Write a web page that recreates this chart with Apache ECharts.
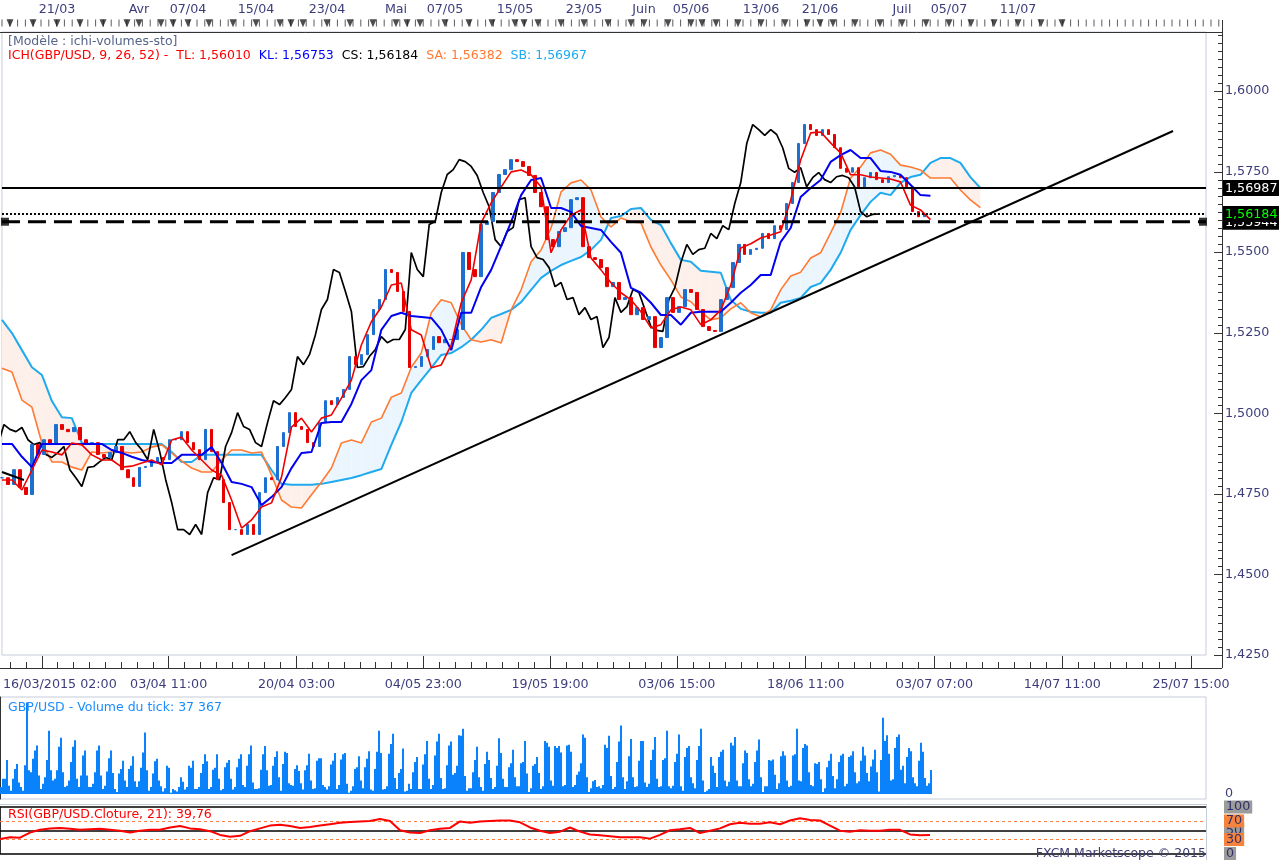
<!DOCTYPE html>
<html><head><meta charset="utf-8">
<script src="https://cdn.jsdelivr.net/npm/echarts@6/dist/echarts.min.js"></script>
<style>html,body{margin:0;padding:0;background:#fff}#c{width:1279px;height:860px}</style>
</head><body><div id="c"></div>
<script>
// ---------- DATA (H4 bars, bar index from left edge) ----------
const CANDLE_STEP = 3;   // one candle per 3 bars
const LINE_STEP = 5;     // ichimoku / RSI samples every 5 bars
const CS_SHIFT = 26;
const closes = [
1.4800,1.4779,1.4825,1.4770,1.4748,1.4903,1.4872,1.4918,1.4903,1.4965,
1.4950,1.4943,1.4956,1.4918,1.4903,1.4909,1.4872,1.4863,1.4878,1.4897,
1.4825,1.4800,1.4773,1.4832,1.4835,1.4850,1.4863,1.4856,1.4918,1.4918,
1.4943,1.4909,1.4887,1.4856,1.4950,1.4881,1.4794,1.4723,1.4639,1.4639,
1.4624,1.4655,1.4624,1.4754,1.4800,1.4794,1.4897,1.4940,1.5002,1.4959,
1.4950,1.4909,1.4897,1.4971,1.5039,1.5027,1.5049,1.5074,1.5176,1.5151,
1.5182,1.5244,1.5322,1.5353,1.5446,1.5437,1.5378,1.5316,1.5142,1.5145,
1.5176,1.5198,1.5238,1.5219,1.5229,1.5229,1.5260,1.5499,1.5446,1.5424,
1.5586,1.5595,1.5685,1.5741,1.5756,1.5787,1.5781,1.5766,1.5738,1.5685,
1.5641,1.5539,1.5517,1.5564,1.5576,1.5663,1.5669,1.5517,1.5483,1.5477,
1.5452,1.5393,1.5406,1.5353,1.5359,1.5306,1.5328,1.5291,1.5300,1.5204,
1.5235,1.5359,1.5313,1.5331,1.5384,1.5375,1.5322,1.5269,1.5257,1.5254,
1.5353,1.5390,1.5468,1.5524,1.5493,1.5508,1.5512,1.5558,1.5542,1.5582,
1.5570,1.5651,1.5716,1.5837,1.5896,1.5880,1.5862,1.5880,1.5865,1.5824,
1.5760,1.5748,1.5762,1.5703,1.5731,1.5747,1.5725,1.5716,1.5734,1.5738,
1.5731,1.5703,1.5626,1.5610,1.5617,1.56184];
const tenkan = [
1.4793,1.4793,1.4762,1.4824,1.4886,1.4880,1.4871,1.4908,1.4902,1.4871,
1.4855,1.4855,1.4833,1.4836,1.4846,1.4855,1.4840,1.4917,1.4926,1.4886,
1.4855,1.4824,1.4808,1.4731,1.4644,1.4669,1.4709,1.4722,1.4802,1.4957,
1.4985,1.4942,1.4985,1.4995,1.5047,1.5103,1.5212,1.5284,1.5330,1.5398,
1.5404,1.5259,1.5243,1.5141,1.5150,1.5212,1.5343,1.5414,1.5591,1.5653,
1.5702,1.5749,1.5755,1.5740,1.5702,1.5498,1.5569,1.5615,1.5631,1.5482,
1.5445,1.5405,1.5374,1.5352,1.5315,1.5265,1.5275,1.5321,1.5330,1.5321,
1.5275,1.5290,1.5321,1.5398,1.5513,1.5526,1.5544,1.5553,1.5563,1.5662,
1.5786,1.5870,1.5873,1.5839,1.5808,1.5740,1.5740,1.5733,1.5730,1.5727,
1.5718,1.5646,1.5631,1.5601];
const kijun = [
1.4905,1.4905,1.4865,1.4833,1.4905,1.4905,1.4905,1.4905,1.4905,1.4905,
1.4905,1.4886,1.4877,1.4865,1.4855,1.4849,1.4846,1.4846,1.4871,1.4871,
1.4871,1.4895,1.4846,1.4787,1.4781,1.4771,1.4715,1.4740,1.4771,1.4830,
1.4877,1.4880,1.4970,1.4973,1.4973,1.5029,1.5103,1.5134,1.5259,1.5302,
1.5312,1.5302,1.5299,1.5296,1.5259,1.5196,1.5312,1.5312,1.5392,1.5445,
1.5519,1.5594,1.5677,1.5724,1.5730,1.5637,1.5637,1.5625,1.5581,1.5575,
1.5569,1.5532,1.5498,1.5389,1.5374,1.5343,1.5305,1.5305,1.5275,1.5312,
1.5315,1.5315,1.5315,1.5343,1.5374,1.5398,1.5429,1.5429,1.5532,1.5575,
1.5671,1.5699,1.5724,1.5780,1.5801,1.5817,1.5792,1.5792,1.5752,1.5749,
1.5740,1.5709,1.5677,1.5675];
const senkouA = [
1.5140,1.5128,1.5041,1.5019,1.4908,1.4849,1.4849,1.4833,1.4824,1.4880,
1.4877,1.4880,1.4880,1.4877,1.4880,1.4895,1.4902,1.4877,1.4852,1.4830,
1.4818,1.4818,1.4855,1.4886,1.4886,1.4877,1.4880,1.4808,1.4731,1.4709,
1.4706,1.4747,1.4787,1.4830,1.4908,1.4917,1.4908,1.4973,1.4985,1.5050,
1.5063,1.5143,1.5187,1.5312,1.5352,1.5343,1.5275,1.5228,1.5221,1.5228,
1.5218,1.5321,1.5383,1.5470,1.5507,1.5575,1.5687,1.5715,1.5724,1.5693,
1.5609,1.5578,1.5606,1.5594,1.5591,1.5516,1.5460,1.5414,1.5361,1.5346,
1.5315,1.5290,1.5296,1.5324,1.5343,1.5312,1.5299,1.5321,1.5383,1.5426,
1.5438,1.5482,1.5498,1.5560,1.5622,1.5730,1.5764,1.5808,1.5817,1.5804,
1.5770,1.5764,1.5755,1.5730,1.5730,1.5730,1.5693,1.5662,1.5638];
const senkouB = [
1.5290,1.5249,1.5196,1.5143,1.5119,1.5038,1.4988,1.4985,1.4908,1.4905,
1.4905,1.4905,1.4905,1.4905,1.4905,1.4905,1.4905,1.4880,1.4849,1.4849,
1.4871,1.4871,1.4871,1.4871,1.4871,1.4871,1.4871,1.4824,1.4781,1.4778,
1.4778,1.4778,1.4781,1.4787,1.4793,1.4799,1.4808,1.4818,1.4827,1.4902,
1.4973,1.5063,1.5103,1.5141,1.5181,1.5187,1.5205,1.5228,1.5259,1.5296,
1.5308,1.5321,1.5345,1.5383,1.5420,1.5442,1.5460,1.5473,1.5485,1.5507,
1.5538,1.5606,1.5612,1.5634,1.5637,1.5600,1.5584,1.5528,1.5476,1.5470,
1.5442,1.5439,1.5436,1.5352,1.5324,1.5315,1.5312,1.5312,1.5343,1.5349,
1.5358,1.5392,1.5404,1.5445,1.5498,1.5569,1.5615,1.5656,1.5684,1.5677,
1.5715,1.5733,1.5740,1.5777,1.5792,1.5792,1.5777,1.5733,1.5699];
// tick volume, thousands, one value per bar
const volumeK = [
11,24,24,53,13,5, 24,39,47,18,11,5, 45,143,37,34,55,68,76,29, 8,16,26,53,99,37, 21,24,37,74,88,34,
11,13,21,50,74,84,24, 11,29,60,68,29,11, 11,16,34,68,76, 29,8,13,35,56,68, 33,8,3,32,39,52,
21,11,39,44,59,20, 11,20,41,65,96,37, 5,11,32,51,55,21, 12,4,9,44,41, 2,
8,6,4,11,26,19, 7,11,44,41,52,8, 8,11,33,47,62,51, 8,11,38,41,62,24, 6,8,42,49,53,24,
7,11,42,55,62,14, 11,44,62,76,18,8, 8,9,38,62,75,37, 13,14,44,58,67,26, 5,47,66,64,17,
14,13,39,45,36,17, 7,37,45,63,21,8, 9,52,56,56,14,11, 7,12,46,52,64,8, 14,54,62,64,16, 2,
5,12,39,42,59,21, 9,42,55,67,7,5, 39,66,99,64,7,8, 12,63,78,94,25,8, 33,39,71,4,5,
16,8,34,50,58,8, 8,46,62,83,24,8, 14,60,82,94,25,8, 9,45,76,82,30,33, 44,92,91,102,28,5, 9,
9,34,53,74,26,11, 5,47,66,53,25,8, 11,44,87,64,24,11, 11,42,48,69,26,12, 12,48,50,83,32, 3,
9,44,47,58,33,8, 12,83,80,74,21,13, 75,72,75,65,12,14, 76,77,66,11,14,30, 35,48,93,88,26, 3,
9,20,22,11,12,9, 14,77,72,91,28,8, 11,50,82,107,26,8, 20,59,86,26,11,12, 52,83,83,18,
11,16,53,69,89,24, 11,12,53,56,99,12, 9,13,50,63,93,12, 5,58,72,75,26,17, 9,53,75,102,21, 3,
5,8,58,44,33, 11,58,66,69,21,12, 19,80,76,89,21,12, 12,48,68,64,23,12, 16,50,68,85,26, 3,
12,12,53,52,54,30, 8,17,59,67,60,21, 11,13,60,62,102,21, 20,72,78,76,34,14, 12,48,47,50,23, 3,
9,42,52,63,28,9, 23,50,60,63,12,16, 58,60,67,34,17, 20,52,74,60,33,20, 43,54,69,34,4,
53,119,83,92,63,21, 23,72,89,93,38,44, 17,58,72,67,26,17, 12,52,80,66,25,13, 17,37.367];
const rsi = [
31,35,34,45,51,54,55,53,51,52, 53,51,49,45,49,51,51,56,59,54,
52,48,40,36,38,48,54,60,62,59, 55,57,60,63,66,68,69,70,74,70,
50,45,44,50,53,55,69,66,69,70, 71,71,67,56,49,44,47,56,47,41,
39,37,35,35,35,32,40,50,52,55, 44,49,54,63,66,64,64,67,63,71,
76,72,71,60,49,47,50,49,49,51, 51,41,39,39.76];
const levels = [1.56987, 1.55944, 1.56184];          // solid, dashed, dotted
const trendLines = [[[115, 1.4560], [586.5, 1.5876]], [[0, 1.4818], [11, 1.4793]]];
const priceTicks = {min: 1.425, max: 1.61831, interval: 0.025, minorInterval: 0.0025};
const bottomTickBars = [20, 83.5, 147.5, 211, 274.5, 338, 402.5, 467, 531, 595.5];
const bottomLabelBars = [29, 83.5, 147.5, 211, 274.5, 338, 402.5, 467, 531, 595.5];
const bottomLabels = ['16/03/2015 02:00','03/04 11:00','20/04 03:00','04/05 23:00','19/05 19:00','03/06 15:00','18/06 11:00','03/07 07:00','14/07 11:00','25/07 15:00'];
const topLabelBars = [28.5, 69.5, 94, 128, 163.5, 198, 222.5, 257.5, 292, 322, 345.5, 380.5, 410, 451, 474.5, 509];
const topLabels = ['21/03','Avr','07/04','15/04','23/04','Mai','07/05','15/05','23/05','Juin','05/06','13/06','21/06','Juil','05/07','11/07'];
const triangleBars = [5,16.5,28.5,40,51.5,63.5,69.5,80.5,86.5,94,104.5,116.5,128,140,145.5,151.5,163.5,175,186.5,198,203.5,210,222.5,234.5,246,257.5,262,269,280.5,292,304,315.5,322,334,345.5,351,358,369,380.5,392.5,403.5,410,416.5,427.5,440,451,463,474.5,485.5,497,509,520.5,531];
const texts = {
  model: '[Modèle : ichi-volumes-sto]',
  ich: 'ICH(GBP/USD, 9, 26, 52) -  TL: 1,56010', kl: 'KL: 1,56753', cs: 'CS: 1,56184', sa: 'SA: 1,56382', sb: 'SB: 1,56967',
  vol: 'GBP/USD - Volume du tick: 37 367', rsi: 'RSI(GBP/USD.Cloture, 21): 39,76', brand: 'FXCM Marketscope © 2015'
};

// ---------- BUILD ----------
const FONT = 'DejaVu Sans';
const FT = '12.5px "DejaVu Sans"';
const AXF = 12.7;
const AX = '#3c3c7c';
const fmtC = (v, d) => v.toFixed(d).replace('.', ',');
const candleData = closes.map((c, i) => { const o = i ? closes[i - 1] : c; return [i * CANDLE_STEP, o, c, Math.min(o, c), Math.max(o, c)]; });
const lineData = arr => arr.map((v, i) => [i * LINE_STEP, v]);
const csData = closes.map((c, i) => [i * CANDLE_STEP - CS_SHIFT, c]);
const cloudData = senkouA.map((a, i) => [i * LINE_STEP, a, senkouB[i]]);
const volData = volumeK.map((v, i) => [i + 0.5, v]);
const minorBottom = [4, 12];
for (let k = 0; k < bottomTickBars.length - 1; k++) {
  const a = bottomTickBars[k], b = bottomTickBars[k + 1];
  for (let j = 1; j < 8; j++) minorBottom.push(a + (b - a) * j / 8);
}
const stripTicks = [];
for (let b = 1; b < 610; b += 3.9) stripTicks.push([+b.toFixed(2), 0.75]);
const botLabelMap = new Map(bottomLabelBars.map((b, i) => [b, bottomLabels[i]]));
const topLabelMap = new Map(topLabelBars.map((b, i) => [b, topLabels[i]]));

const BULL = '#eaf5fd', BEAR = '#fdf0ea';
function renderCloud(params, api) {
  const i = params.dataIndex;
  if (i >= cloudData.length - 1) return null;
  const [x0, a0, b0] = cloudData[i], [x1, a1, b1] = cloudData[i + 1];
  const d0 = a0 - b0, d1 = a1 - b1;
  const poly = (pts, col) => ({type: 'polygon', shape: {points: pts.map(p => api.coord(p))}, style: {fill: col}, silent: true});
  const children = [];
  if (d0 * d1 >= 0) {
    children.push(poly([[x0, a0], [x1, a1], [x1, b1], [x0, b0]], (d0 + d1) >= 0 ? BULL : BEAR));
  } else {
    const t = d0 / (d0 - d1), xc = x0 + (x1 - x0) * t, yc = a0 + (a1 - a0) * t;
    children.push(poly([[x0, a0], [xc, yc], [x0, b0]], d0 > 0 ? BULL : BEAR));
    children.push(poly([[xc, yc], [x1, a1], [x1, b1]], d1 > 0 ? BULL : BEAR));
  }
  return {type: 'group', children};
}

const off = () => ({show: false});
const chart = echarts.init(document.getElementById('c'), null, {renderer: 'canvas'});
const levelStyles = [
  {color: '#000', width: 2, type: 'solid'},
  {color: '#000', width: 3, type: [18, 8]},
  {color: '#000', width: 2, type: [2, 2]}
];
const levelLabelColors = ['#fff', '#fff', '#00ff00'];

const baseGraphics = [
  {type: 'line', shape: {x1: 1222.5, y1: 20, x2: 1222.5, y2: 668}, style: {stroke: '#333', lineWidth: 1}, silent: true, z: 50},
  {type: 'line', shape: {x1: 0, y1: 668.5, x2: 1222, y2: 668.5}, style: {stroke: '#333', lineWidth: 1}, silent: true, z: 50},
  {type: 'line', shape: {x1: 0, y1: 804.5, x2: 1206, y2: 804.5}, style: {stroke: '#c5ccd8', lineWidth: 1}, silent: true, z: 50},
  {type: 'line', shape: {x1: 1206.5, y1: 804, x2: 1206.5, y2: 860}, style: {stroke: '#c5ccd8', lineWidth: 1}, silent: true, z: 50},
  {type: 'text', x: 8, y: 35.5, z: 100, style: {text: texts.model, fill: '#556488', font: FT}, silent: true},
  {type: 'text', x: 8, y: 49.5, z: 100, silent: true, style: {
    text: '{r|' + texts.ich + '}  {b|' + texts.kl + '}  {k|' + texts.cs + '}  {o|' + texts.sa + '}  {s|' + texts.sb + '}',
    font: FT,
    rich: {r: {fill: '#ff0000', font: FT}, b: {fill: '#0000ff', font: FT}, k: {fill: '#000', font: FT},
           o: {fill: '#ff7a32', font: FT}, s: {fill: '#1fa9ef', font: FT}}}},
  {type: 'text', x: 8, y: 701.5, z: 100, style: {text: texts.vol, fill: '#1a8cff', font: FT}, silent: true},
  {type: 'text', x: 8, y: 808.5, z: 100, style: {text: texts.rsi, fill: '#ff0000', font: FT}, silent: true},
  {type: 'text', x: 1206, y: 847.5, z: 100, style: {text: texts.brand, fill: '#3c3c6e', font: FT, align: 'right'}, silent: true}
];

chart.setOption({
  animation: false,
  textStyle: {fontFamily: FONT},
  grid: [
    {left: 0, top: 32, width: 1206, height: 623, show: true, borderColor: '#c5ccd8', borderWidth: 1},
    {left: 0, top: 697, width: 1206, height: 102, show: true, borderColor: '#c5ccd8', borderWidth: 1},
    {left: 0, top: 807, width: 1206, height: 50, show: false},
    {left: 0, top: 20, width: 1222, height: 12, show: false}
  ],
  xAxis: [
    {type: 'value', gridIndex: 0, min: 0, max: 603, position: 'bottom', offset: 13,
     axisLine: off(), splitLine: off(),
     axisTick: {show: true, inside: true, length: 12, customValues: bottomTickBars, lineStyle: {color: '#333'}},
     axisLabel: {show: true, customValues: bottomLabelBars, formatter: v => botLabelMap.get(v) || '', color: AX, fontSize: AXF, fontFamily: FONT, margin: 10}},
    {type: 'value', gridIndex: 0, min: 0, max: 603, position: 'bottom', offset: 13,
     axisLine: off(), splitLine: off(), axisLabel: off(),
     axisTick: {show: true, inside: true, length: 6, customValues: minorBottom, lineStyle: {color: '#333'}}},
    {type: 'value', gridIndex: 1, min: 0, max: 603, show: false},
    {type: 'value', gridIndex: 2, min: 0, max: 603, show: false},
    {type: 'value', gridIndex: 3, min: 0, max: 611, position: 'top',
     axisLine: {show: true, lineStyle: {color: '#333', width: 1}}, splitLine: off(), axisTick: off(),
     axisLabel: {show: true, customValues: topLabelBars, formatter: v => topLabelMap.get(v) || '', color: AX, fontSize: AXF, fontFamily: FONT, margin: 4}}
  ],
  yAxis: [
    {type: 'value', gridIndex: 0, position: 'right', offset: 16, min: priceTicks.min, max: priceTicks.max, interval: priceTicks.interval,
     axisLine: off(), splitLine: off(), axisTick: off(),
     axisLabel: {formatter: v => fmtC(v, 4), color: AX, fontSize: AXF, fontFamily: FONT, margin: 3, showMaxLabel: false}},
    {type: 'value', gridIndex: 1, position: 'right', offset: 16, min: -7.8, max: 151.6,
     axisLine: {show: true, lineStyle: {color: '#333'}}, splitLine: off(),
     axisTick: {show: true, inside: true, length: 8, customValues: [0, 25, 50, 75, 100, 125], lineStyle: {color: '#333'}},
     axisLabel: {customValues: [0], formatter: v => String(v), color: AX, fontSize: AXF, fontFamily: FONT, margin: 3}},
    {type: 'value', gridIndex: 2, position: 'right', offset: 16, min: 0, max: 100,
     axisLine: {show: true, lineStyle: {color: '#333'}}, splitLine: off(),
     axisTick: {show: true, inside: true, length: 6, customValues: [0, 30, 50, 70, 100], lineStyle: {color: '#333'}},
     axisLabel: {customValues: [0, 50, 100, 30, 70], margin: 2, fontSize: AXF, fontFamily: FONT,
       formatter: v => (v === 30 || v === 70) ? '{o|' + v + '}' : '{g|' + v + '}',
       rich: {g: {backgroundColor: '#9b9b9b', color: '#2e2e66', padding: [0, 2, 0, 2], fontSize: AXF, fontFamily: FONT, lineHeight: 13},
              o: {backgroundColor: '#f5823d', color: '#2e2e66', padding: [0, 2, 0, 2], fontSize: AXF, fontFamily: FONT, lineHeight: 13}}}},
    {type: 'value', gridIndex: 3, min: 0, max: 1, show: false}
  ],
  series: [
    {name: 'cloud', type: 'custom', data: cloudData, encode: {x: 0, y: [1, 2]}, renderItem: renderCloud, silent: true, z: 1, clip: true},
    {name: 'SB', type: 'line', data: lineData(senkouB), symbol: 'none', lineStyle: {color: '#1fa9ef', width: 2}, z: 2},
    {name: 'SA', type: 'line', data: lineData(senkouA), symbol: 'none', lineStyle: {color: '#ff7a32', width: 1.6}, z: 2},
    {name: 'CS', type: 'line', data: csData, symbol: 'none', lineStyle: {color: '#000', width: 1.7}, z: 3},
    {name: 'candles', type: 'candlestick', data: candleData, encode: {x: 0, y: [1, 2, 3, 4]}, barWidth: 3,
     itemStyle: {color: '#1d6fd0', color0: '#e60000', borderColor: '#1d6fd0', borderColor0: '#e60000', borderWidth: 1}, z: 4},
    {name: 'KL', type: 'line', data: lineData(kijun), symbol: 'none', lineStyle: {color: '#0000f2', width: 2}, z: 5},
    {name: 'TL', type: 'line', data: lineData(tenkan), symbol: 'none', lineStyle: {color: '#f20000', width: 1.6}, z: 6},
    ...trendLines.map((pts, k) => ({name: 'trend' + k, type: 'line', data: pts, symbol: 'none', lineStyle: {color: '#000', width: 2}, z: 7})),
    ...levels.map((v, j) => ({name: 'level' + j, type: 'line', data: [[0, v], [603, v]], symbol: 'none', lineStyle: levelStyles[j], z: 7})),
    {name: 'levelEnds', type: 'scatter', data: [[1.5, levels[1]], [601.5, levels[1]]], symbol: 'rect', symbolSize: 8, itemStyle: {color: '#000'}, z: 8},
    {name: 'volume', type: 'bar', xAxisIndex: 2, yAxisIndex: 1, data: volData, barWidth: 2, itemStyle: {color: '#0a82fb'}},
    {name: 'RSI', type: 'line', xAxisIndex: 3, yAxisIndex: 2, data: lineData(rsi), symbol: 'none', lineStyle: {color: '#ff0000', width: 2}, z: 5,
     markLine: {symbol: 'none', silent: true, label: {show: false},
       data: [
         {yAxis: 100, lineStyle: {color: '#000', width: 1.5, type: 'solid'}},
         {yAxis: 50, lineStyle: {color: '#000', width: 1.5, type: 'solid'}},
         {yAxis: 0, lineStyle: {color: '#000', width: 1.5, type: 'solid'}},
         {yAxis: 70, lineStyle: {color: '#ff7f40', width: 1, type: [3, 3]}},
         {yAxis: 30, lineStyle: {color: '#ff7f40', width: 1, type: [3, 3]}}
       ]}},
    {name: 'stripTicks', type: 'scatter', xAxisIndex: 4, yAxisIndex: 3, data: stripTicks, symbol: 'rect', symbolSize: [1, 7], itemStyle: {color: '#333'}},
    {name: 'markers', type: 'scatter', xAxisIndex: 4, yAxisIndex: 3, data: triangleBars.map(b => [b, 0.72]),
     symbol: 'triangle', symbolRotate: 180, symbolSize: [7, 8], itemStyle: {color: '#222'}}
  ],
  graphic: baseGraphics
});

// level value boxes and price-scale ticks, placed through the price axis scale
const extra = levels.map((v, j) => {
  const y = chart.convertToPixel({yAxisIndex: 0}, v);
  return {type: 'text', x: 1223, y: y - 8, z: 100 + j, silent: true,
    style: {text: fmtC(v, 5), fill: levelLabelColors[j], backgroundColor: '#000', padding: [2, 3, 1, 2], font: '12.7px "DejaVu Sans"'}};
});
for (let k = 0; priceTicks.min + k * priceTicks.minorInterval < priceTicks.max; k++) {
  const v = priceTicks.min + k * priceTicks.minorInterval;
  const y = Math.round(chart.convertToPixel({yAxisIndex: 0}, v)) + 0.5;
  const len = (k % 10 === 0) ? 8 : 4;
  extra.push({type: 'line', shape: {x1: 1222 - len, y1: y, x2: 1222, y2: y}, style: {stroke: '#333', lineWidth: 1}, silent: true, z: 40});
}
chart.setOption({graphic: baseGraphics.concat(extra)});
</script></body></html>
